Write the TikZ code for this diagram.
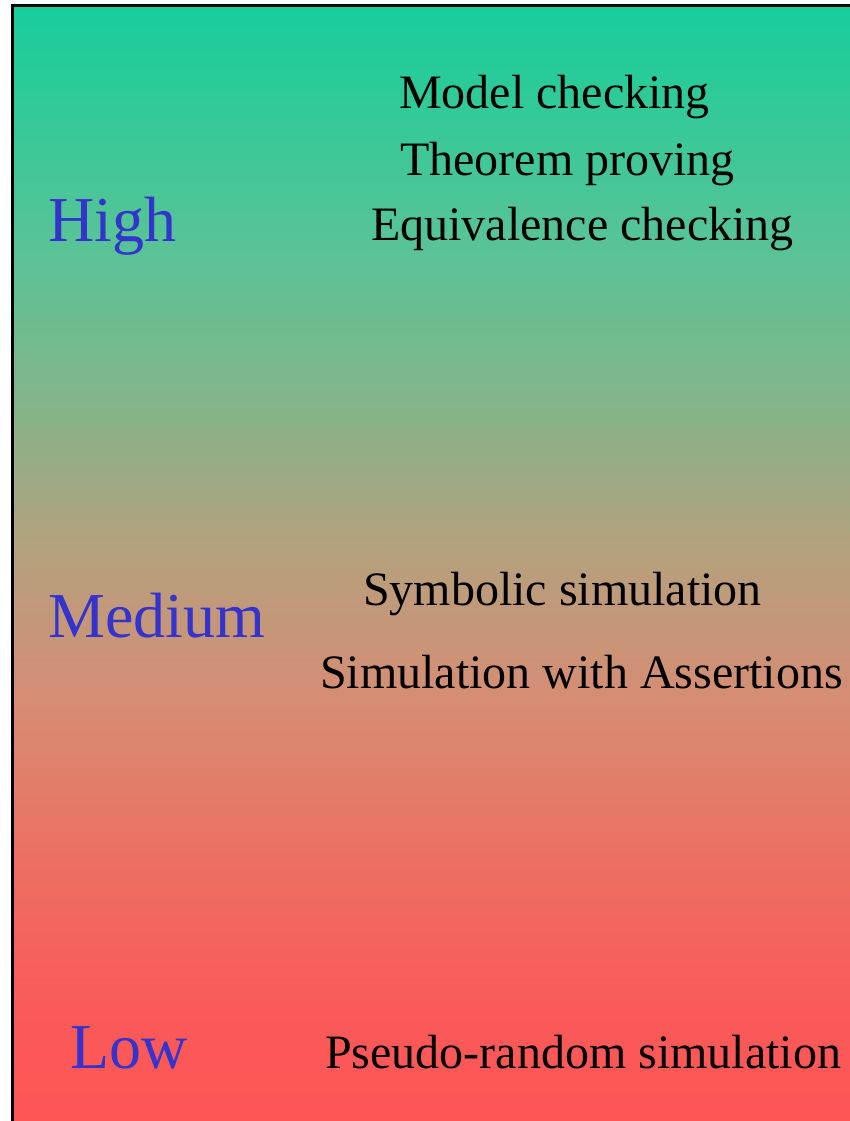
\documentclass[tikz,border=0pt]{standalone}
\usepackage{fontspec}
\setmainfont{Liberation Serif}
\usepackage{xcolor}
\definecolor{levelblue}{RGB}{52,52,204}
\usetikzlibrary{positioning}

% top green -> tan -> red, mapped onto the 25bp..75bp band
\pgfdeclareverticalshading{rigour}{100bp}{
  color(0bp)=(rgb,255:red,255;green,85;blue,85);
  color(25bp)=(rgb,255:red,255;green,85;blue,85);
  color(30.4bp)=(rgb,255:red,250;green,90;blue,88);
  color(37.2bp)=(rgb,255:red,236;green,112;blue,97);
  color(43.9bp)=(rgb,255:red,215;green,140;blue,115);
  color(50.6bp)=(rgb,255:red,182;green,160;blue,125);
  color(57.3bp)=(rgb,255:red,132;green,180;blue,137);
  color(64.1bp)=(rgb,255:red,90;green,195;blue,150);
  color(75bp)=(rgb,255:red,22;green,206;blue,155);
  color(100bp)=(rgb,255:red,22;green,206;blue,155)}

\begin{document}
\begin{tikzpicture}[
    x=1pt, y=-1pt,
    level/.style={anchor=base west, inner sep=0pt, text=levelblue,
                  font=\fontsize{64}{72}\selectfont},
    tech/.style={anchor=base west, inner sep=0pt, text=black,
                 font=\fontsize{48}{56}\selectfont}
]
\useasboundingbox (0,0) rectangle (850,1121);

% background panel
\shade[shading=rigour] (12,6) rectangle (860,1130);
\draw[line width=3pt] (12,1130) -- (12,6) -- (860,6);

% levels
\node[level] (high)   at (48,241)  {High};
\node[level] (medium) at (48,637)  {Medium};
\node[level] (low)    at (70,1068) {Low};

% techniques
\node[tech] (mc)  at (399,109)  {Model checking};
\node[tech] (tp)  at (400,175)  {Theorem proving};
\node[tech] (eq)  at (371,240)  {Equivalence checking};
\node[tech] (sym) at (363,605)  {Symbolic simulation};
\node[tech] (swa) at (320,688)  {Simulation with Assertions};
\node[tech] (prs) at (325,1068) {Pseudo-random simulation};

\end{tikzpicture}
\end{document}
